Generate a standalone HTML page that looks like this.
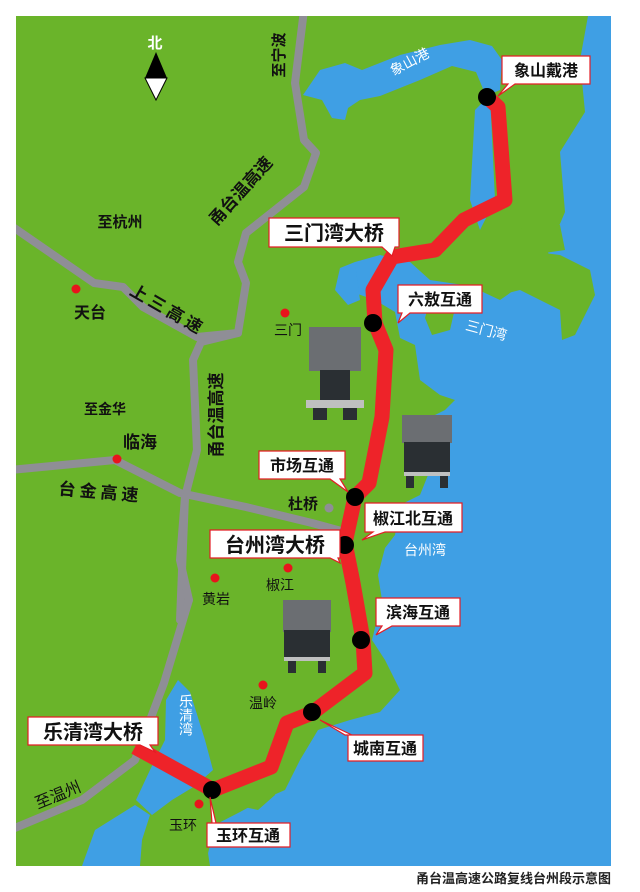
<!DOCTYPE html>
<html><head><meta charset="utf-8"><style>
html,body{margin:0;padding:0;background:#fff;}
svg{display:block}
text{font-family:"Liberation Sans","Noto Sans CJK SC",sans-serif;}
</style></head><body>
<svg width="640" height="892" viewBox="0 0 640 892" xmlns="http://www.w3.org/2000/svg">
<rect x="0" y="0" width="640" height="892" fill="#fff"/>
<defs><clipPath id="c"><rect x="16" y="16" width="595" height="850"/></clipPath></defs>
<g clip-path="url(#c)">
<rect x="16" y="16" width="595" height="850" fill="#6ab42a"/>
<!-- sea -->
<path fill="#3f9fe4" d="M588,16 L611,16 L611,866 L205,866 L210,845 L205,830 L240,812 L262,800 L285,790 L300,760 L318,730 L350,720 L380,712 L400,690 L385,660 L372,640 L382,600 L378,575 L385,548 L395,535 L400,505 L420,495 L430,470 L420,440 L425,420 L445,410 L455,400 L440,395 L420,380 L415,345 L400,338 L395,312 L375,300 L352,292 L355,262 L380,255 L410,262 L430,280 L470,286 L500,300 L520,286 L540,300 L555,282 L548,252 L565,212 L560,152 L585,112 L580,60 Z"/>
<!-- green peninsula in Sanmen bay -->
<path fill="#6ab42a" d="M480,262 L520,250 L560,255 L590,270 L595,295 L575,335 L562,340 L560,310 L540,300 L520,290 L500,295 L485,285 Z"/>
<path fill="#6ab42a" d="M505,230 L560,225 L565,250 L530,255 L505,250 Z"/>
<path fill="#6ab42a" d="M430,300 L455,308 L450,330 L432,335 L425,318 Z"/>
<!-- 三门 inland blue -->
<path fill="#3f9fe4" d="M340,268 L355,262 L360,300 L348,305 L335,290 Z"/>
<path fill="#3f9fe4" d="M475,110 L490,95 L495,200 L480,230 L470,200 Z"/>
<!-- 象山港 -->
<path fill="#3f9fe4" d="M303,95 L320,70 L345,63 L362,70 L400,55 L440,45 L470,40 L492,46 L502,60 L500,90 L486,96 L476,72 L452,66 L420,80 L380,96 L360,100 L348,108 L345,120 L332,118 L322,100 Z"/>
<!-- Yuhuan island -->
<path fill="#6ab42a" d="M140,866 L146,840 L142,815 L165,800 L188,786 L213,790 L245,786 L265,770 L282,760 L275,795 L258,810 L240,806 L220,812 L206,840 L210,866 Z"/>
<!-- 乐清湾 -->
<path fill="#3f9fe4" d="M178,680 L190,692 L205,740 L213,770 L195,786 L172,800 L152,815 L136,800 L150,770 L165,740 L166,700 Z"/>
<path fill="#3f9fe4" d="M82,866 L95,830 L135,805 L150,815 L142,840 L140,866 Z"/>
<!-- roads -->
<g fill="none" stroke="#8f8e96" stroke-width="8" stroke-linejoin="round" stroke-linecap="round">
<path d="M304,10 L295,83 L304,140 L316,153 L304,187 L246,233 L238,262 L246,283 L238,333 L201,342 L193,360 L197,450 L185,497 L180,620 L189,600"/>
<path d="M10,225 L94,283 L123,287 L143,307 L197,337 L238,333"/>
<path d="M10,470 L115,460 L180,493 L246,507 L312,523 L345,532"/>
<path d="M185,497 L180,560 L189,600 L164,683 L135,760 L82,800 L10,830"/>
</g>
<!-- machines -->
<g>
<rect x="309" y="327" width="52" height="44" fill="#6b6e72"/>
<rect x="320" y="370" width="30" height="38" fill="#2a2f33"/>
<rect x="306" y="400" width="58" height="8" fill="#bfc0c0"/>
<rect x="313" y="408" width="14" height="12" fill="#2a2f33"/>
<rect x="343" y="408" width="14" height="12" fill="#2a2f33"/>
<rect x="402" y="415" width="50" height="28" fill="#6b6e72"/>
<rect x="404" y="442" width="46" height="32" fill="#2a2f33"/>
<rect x="404" y="472" width="46" height="4" fill="#bfc0c0"/>
<rect x="406" y="476" width="8" height="12" fill="#2a2f33"/>
<rect x="440" y="476" width="8" height="12" fill="#2a2f33"/>
<rect x="283" y="600" width="48" height="32" fill="#6b6e72"/>
<rect x="284" y="630" width="46" height="28" fill="#2a2f33"/>
<rect x="284" y="657" width="46" height="4" fill="#bfc0c0"/>
<rect x="288" y="661" width="8" height="12" fill="#2a2f33"/>
<rect x="318" y="661" width="8" height="12" fill="#2a2f33"/>
</g>
<!-- red route -->
<path fill="none" stroke="#ee2329" stroke-width="15" stroke-linejoin="round" d="M487,97 L498,107 L505,200 L464,220 L435,250 L392,257 L373,290 L375,323 L386,350 L382,417 L369,483 L355,497 L345,543 L353,583 L363,640 L365,673 L312,713 L287,723 L271,767 L213,790 L135,747"/>
<g fill="#000">
<circle cx="487" cy="97" r="9"/><circle cx="373" cy="323" r="9"/><circle cx="355" cy="497" r="9"/><circle cx="345" cy="545" r="9"/><circle cx="361" cy="640" r="9"/><circle cx="312" cy="712" r="9"/><circle cx="212" cy="790" r="9"/>
</g>
<g fill="#e8141c">
<circle cx="76" cy="289" r="4.5"/><circle cx="285" cy="313" r="4.5"/><circle cx="117" cy="459" r="4.5"/><circle cx="215" cy="578" r="4.5"/><circle cx="288" cy="568" r="4.5"/><circle cx="263" cy="685" r="4.5"/><circle cx="199" cy="804" r="4.5"/>
</g>
<circle cx="329" cy="508" r="4.5" fill="#8f8e96"/>
</g>
<!-- compass -->
<text x="155" y="48" font-size="15" font-weight="bold" fill="#fff" text-anchor="middle">北</text>
<polygon points="156,52 145,78 167,78" fill="#000"/>
<polygon points="145,78 167,78 156,100" fill="#fff" stroke="#000" stroke-width="1"/>
<!-- map labels -->
<g font-size="15" fill="#111" font-weight="bold">
<text x="120" y="227" text-anchor="middle">至杭州</text>
<text x="90" y="318" text-anchor="middle" font-size="16">天台</text>
<text x="288" y="335" text-anchor="middle" font-size="14" font-weight="normal">三门</text>
<text x="105" y="414" text-anchor="middle" font-size="14">至金华</text>
<text x="140" y="448" text-anchor="middle" font-size="17">临海</text>
<text x="100" y="498" text-anchor="middle" font-size="17" letter-spacing="4" transform="rotate(5 100 498)">台金高速</text>
<text x="303" y="509" text-anchor="middle" font-size="15">杜桥</text>
<text x="216" y="604" text-anchor="middle" font-size="14" font-weight="normal">黄岩</text>
<text x="280" y="590" text-anchor="middle" font-size="14" font-weight="normal">椒江</text>
<text x="263" y="708" text-anchor="middle" font-size="14" font-weight="normal">温岭</text>
<text x="183" y="830" text-anchor="middle" font-size="14" font-weight="normal">玉环</text>
<text x="60" y="800" text-anchor="middle" font-size="16" font-weight="normal" transform="rotate(-22 60 800)">至温州</text>
<text x="165" y="315" text-anchor="middle" font-size="17" letter-spacing="4" transform="rotate(30 165 315)">上三高速</text>
<text x="245" y="195" text-anchor="middle" font-size="17" transform="rotate(-48 245 195)">甬台温高速</text>
<text x="222" y="415" text-anchor="middle" font-size="17" transform="rotate(-90 222 415)">甬台温高速</text>
<text x="284" y="55" text-anchor="middle" font-size="15" transform="rotate(-90 284 55)">至宁波</text>
</g>
<g fill="#fff" font-size="14">
<text x="412" y="66" text-anchor="middle" transform="rotate(-28 412 66)">象山港</text>
<text x="485" y="335" text-anchor="middle" transform="rotate(15 485 335)">三门湾</text>
<text x="425" y="555" text-anchor="middle">台州湾</text>
<text x="186" y="715" text-anchor="middle" writing-mode="tb">乐清湾</text>
</g>
<!-- callout labels -->
<g stroke="#e31d25" stroke-width="1.2" fill="#fff">
<path d="M502,56 H590 V84 H515 L498,96 L508,84 H502 Z"/>
<path d="M269,218 H399 V247 H395 L392,256 L382,247 H269 Z"/>
<path d="M398,285 H482 V313 H410 L398,323 L402,313 H398 Z"/>
<path d="M259,451 H345 V479 H340 L348,492 L330,479 H259 Z"/>
<path d="M365,503 H462 V532 H385 L362,540 L373,532 H365 Z"/>
<path d="M210,530 H340 V558 H338 L340,563 L330,558 H210 Z"/>
<path d="M376,598 H460 V626 H392 L376,635 L382,626 H376 Z"/>
<path d="M348,735 H423 V761 H348 V735 L345,735 L320,720 L352,735 Z"/>
<path d="M28,717 H158 V745 H150 L155,752 L140,745 H28 Z"/>
<path d="M207,823 H290 V847 H207 V823 H212 L210,797 L216,823 Z"/>
</g>
<g fill="#111" font-size="16" font-weight="bold" text-anchor="middle">
<text x="546" y="76">象山戴港</text>
<text x="334" y="240" font-size="20">三门湾大桥</text>
<text x="440" y="305">六敖互通</text>
<text x="302" y="471">市场互通</text>
<text x="413" y="524">椒江北互通</text>
<text x="275" y="552" font-size="20">台州湾大桥</text>
<text x="418" y="618">滨海互通</text>
<text x="385" y="754">城南互通</text>
<text x="93" y="739" font-size="20">乐清湾大桥</text>
<text x="248" y="841">玉环互通</text>
</g>
<text x="611" y="883" font-size="13" font-weight="bold" fill="#222" text-anchor="end">甬台温高速公路复线台州段示意图</text>
</svg>
</body></html>
